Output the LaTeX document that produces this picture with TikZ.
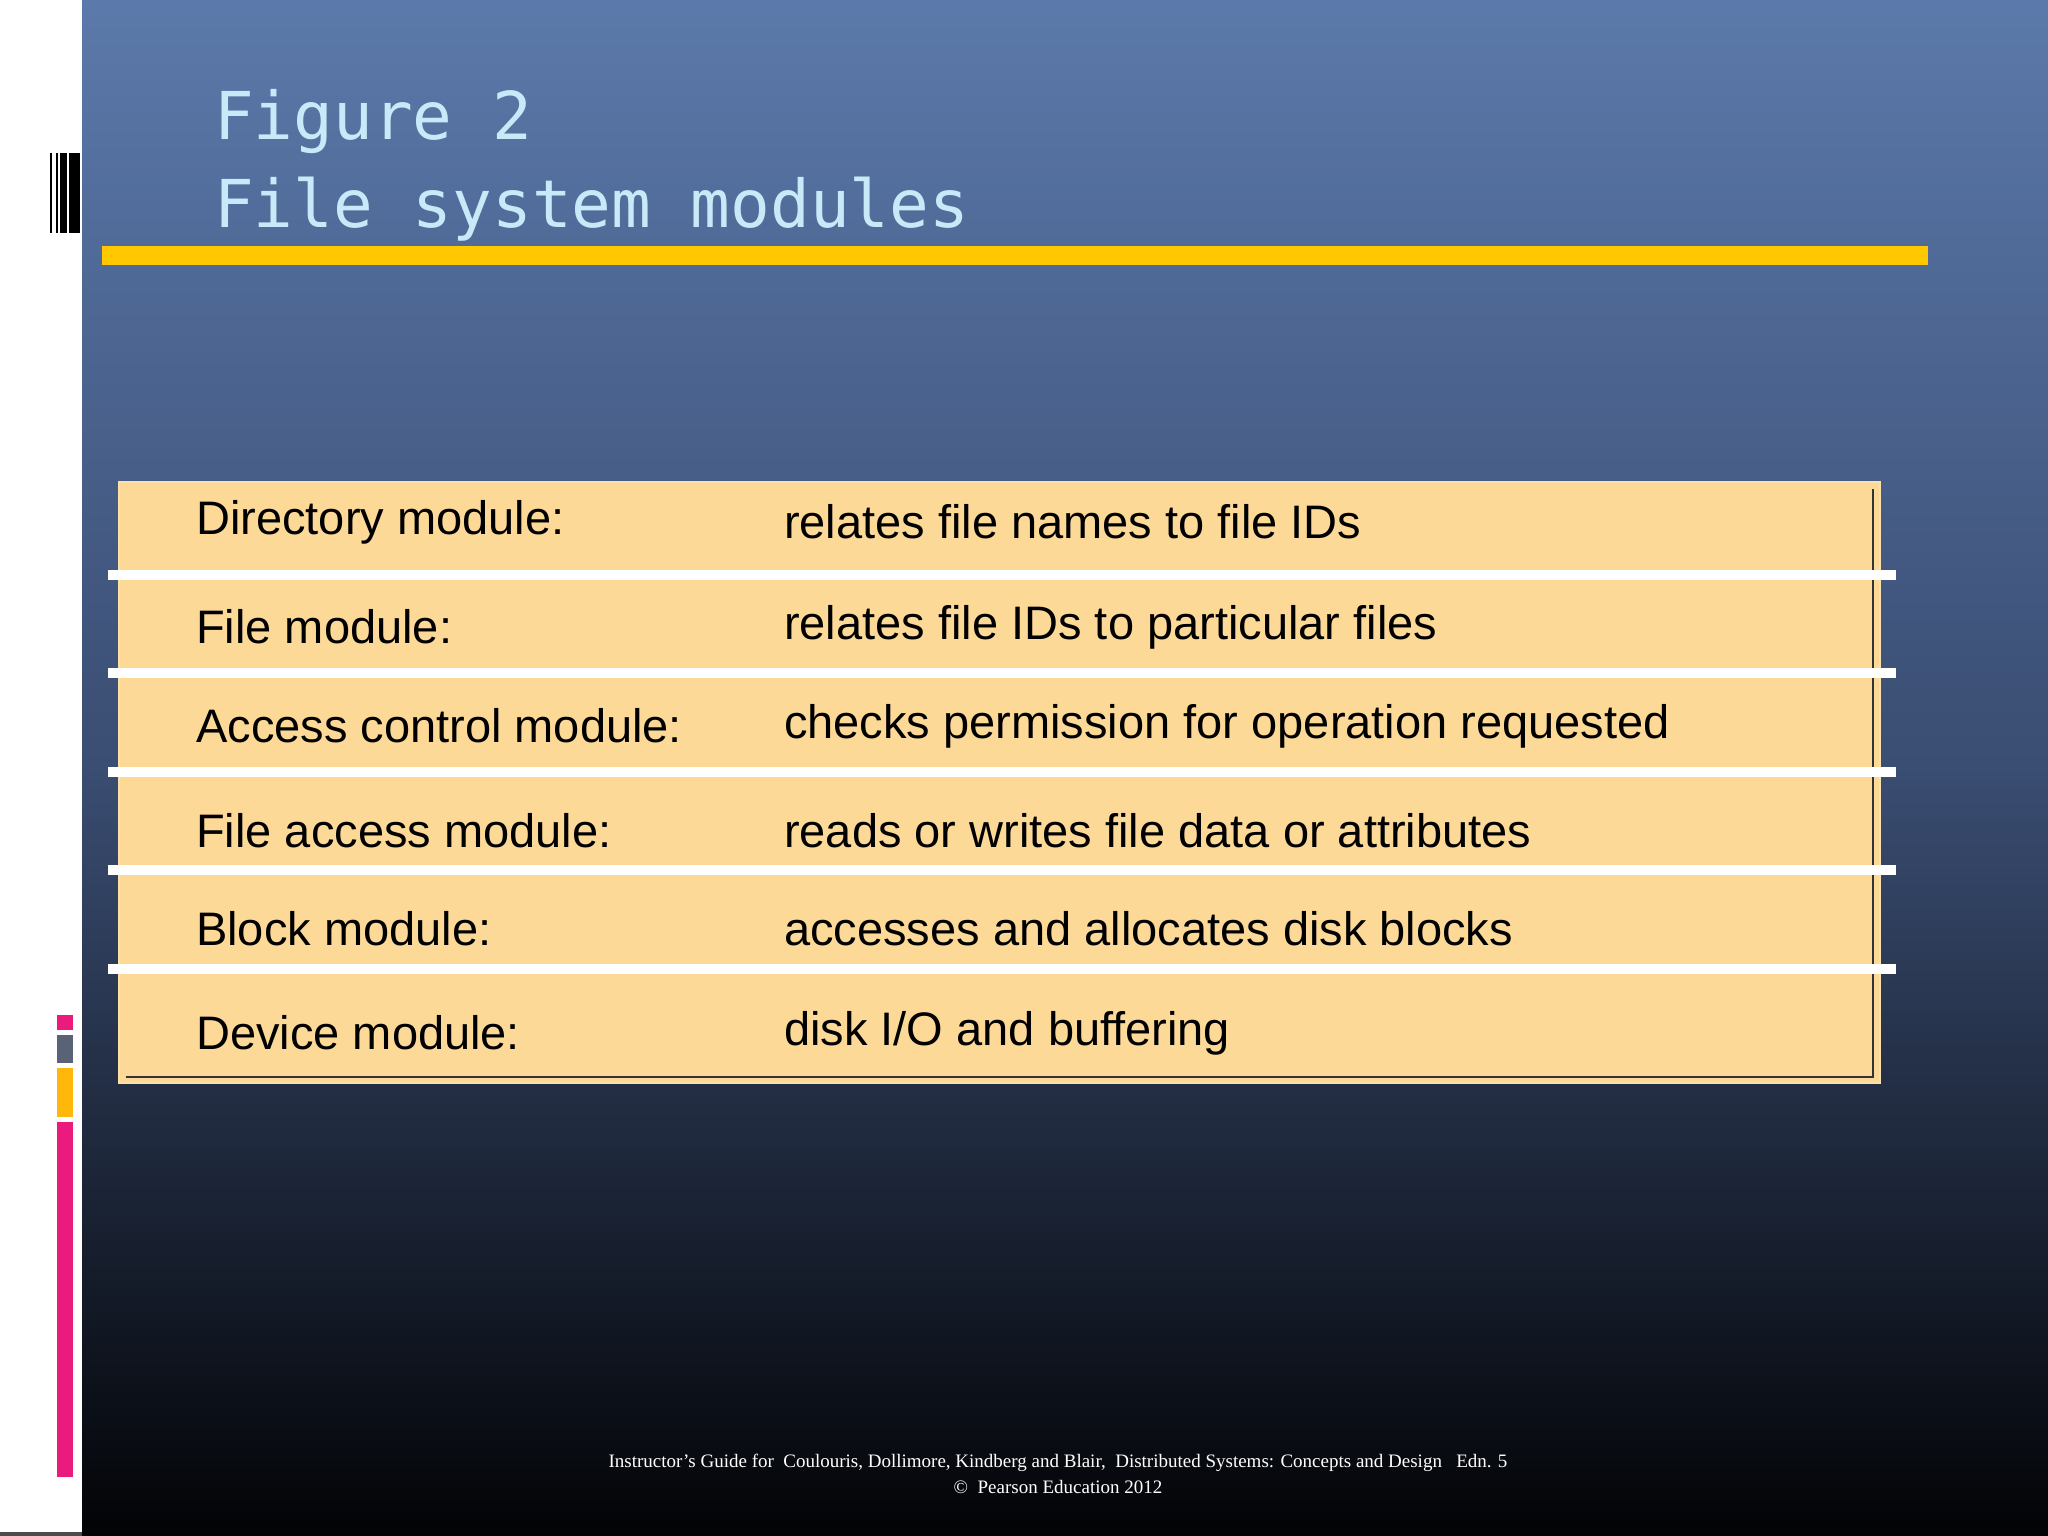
\documentclass[tikz,border=0pt]{standalone}
\usepackage{fontspec}
\setmainfont{Liberation Sans}
\newfontfamily\monof{DejaVu Sans Mono}
\newfontfamily\timesf{Liberation Serif}
\definecolor{bgtop}{HTML}{5B79AA}
\definecolor{bgmid}{HTML}{3A4D72}
\definecolor{bgbot}{HTML}{020305}
\definecolor{titlec}{HTML}{C8E9F8}
\definecolor{goldc}{HTML}{FFC800}
\definecolor{tabfill}{HTML}{FDD998}
\definecolor{pinkc}{HTML}{EB1A7D}
\definecolor{greyc}{HTML}{5A6375}
\definecolor{ambc}{HTML}{FFB70A}
\tikzset{
  lab/.style={anchor=west,inner sep=0pt,font=\fontsize{47}{50}\selectfont,text=black},
  sep/.style={fill=white,draw=none},
  foot/.style={font=\timesf\fontsize{19}{22}\selectfont,text=white,inner sep=0pt}
}
\begin{document}
\begin{tikzpicture}[x=1pt,y=-1pt]
\useasboundingbox (0,0) rectangle (2048,1536);
\fill[white] (0,0) rectangle (2048,1536);
\fill[top color=bgtop,bottom color=bgbot,middle color=bgmid] (82,0) rectangle (2048,1536);
% left decorations
\fill[black] (50,153) rectangle (52,233);
\fill[black] (56,153) rectangle (58,233);
\fill[black] (60,153) rectangle (67,233);
\fill[black] (69,153) rectangle (80,233);
\fill[pinkc] (57,1015) rectangle (73,1030);
\fill[greyc] (57,1035) rectangle (73,1063);
\fill[ambc] (57,1068) rectangle (73,1117);
\fill[pinkc] (57,1122) rectangle (73,1477);
% title
\node[anchor=base west,inner sep=0pt,text=titlec,font=\monof\fontsize{66}{70}\selectfont] (t1) at (214,140) {Figure 2};
\node[anchor=base west,inner sep=0pt,text=titlec,font=\monof\fontsize{66}{70}\selectfont] (t2) at (214,227) {File system modules};
\fill[goldc] (102,246) rectangle (1928,265);
% table
\fill[tabfill!85!white] (118,481) rectangle (1881,1084);
\fill[tabfill] (120,483) rectangle (1879,1082);
\draw[line width=2.5pt,black!80] (1873,489) -- (1873,1077) -- (126,1077);
\foreach \y in {575,673,772,870,969} {\fill[white] (108,\y-5) rectangle (1896,\y+5);}
\node[lab] (a1) at (196,522) {Directory module:};
\node[lab] (b1) at (784,522) {relates file names to file IDs};
\node[lab] (a2) at (196,627) {File module:};
\node[lab] (b2) at (784,627) {relates file IDs to particular files};
\node[lab] (a3) at (196,726) {Access control module:};
\node[lab] (b3) at (784,726) {checks permission for operation requested};
\node[lab] (a4) at (196,831) {File access module:};
\node[lab] (b4) at (784,831) {reads or writes file data or attributes};
\node[lab] (a5) at (196,929) {Block module:};
\node[lab] (b5) at (784,929) {accesses and allocates disk blocks};
\node[lab] (a6) at (196,1033) {Device module:};
\node[lab] (b6) at (784,1033) {disk I/O and buffering};
% footer
\node[foot] (f1) at (1058,1463) {Instructor’s Guide for\ \ Coulouris, Dollimore, Kindberg and Blair,\ \ Distributed Systems: Concepts and Design\ \ \ Edn. 5};
\node[foot] (f2) at (1058,1487) {©\ \ Pearson Education 2012};
\fill[black!70] (0,1532) rectangle (82,1536);
\end{tikzpicture}
\end{document}
